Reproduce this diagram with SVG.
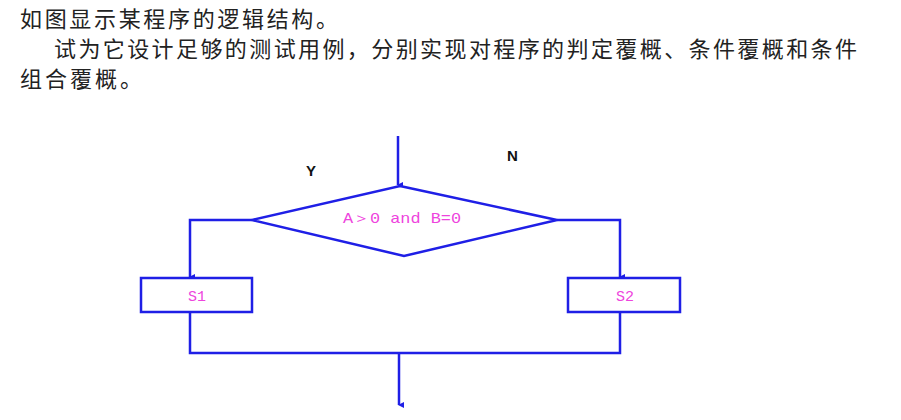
<svg xmlns="http://www.w3.org/2000/svg" width="901" height="420" viewBox="0 0 901 420">
<style>
.hdr{font-family:"Noto Sans CJK SC","Noto Sans CJK JP",sans-serif;font-size:22px;fill:#222}
.ln{fill:none;stroke:#1f1fe6;stroke-width:2.5}
.box{fill:#fff;stroke:#1f1fe6;stroke-width:2.5}
.lbl{font-family:"Liberation Mono",monospace;font-size:15px;fill:#ee44dd;text-anchor:middle}
.yn{font-family:"Liberation Sans",Arial,sans-serif;font-size:15px;font-weight:bold;fill:#111}
</style>
<defs>
<marker id="arr" markerWidth="8" markerHeight="8" refX="4" refY="6" orient="auto-start-reverse" markerUnits="userSpaceOnUse" viewBox="0 0 8 8">
<path d="M1,1 L4,7 L7,1 Z" fill="#1f1fe6"/>
</marker>
</defs>
<rect width="901" height="420" fill="#fff"/>
<g id="header">
<text class="hdr" x="20" y="27" textLength="318" lengthAdjust="spacing">如图显示某程序的逻辑结构。</text>
<text class="hdr" x="54" y="57" textLength="803" lengthAdjust="spacing">试为它设计足够的测试用例，分别实现对程序的判定覆概、条件覆概和条件</text>
<text class="hdr" x="20" y="87" textLength="122" lengthAdjust="spacing">组合覆概。</text>
</g>
<g id="connectors">
<line class="ln" x1="398" y1="136" x2="398" y2="185" marker-end="url(#arr)"/>
<polyline class="ln" points="252,220 190,220 190,277" marker-end="url(#arr)"/>
<polyline class="ln" points="557,220 620,220 620,277" marker-end="url(#arr)"/>
<polyline class="ln" points="190,312 190,353 620,353 620,312"/>
<line class="ln" x1="399" y1="353" x2="399" y2="405" marker-end="url(#arr)"/>
</g>
<g id="decision">
<polygon class="box" points="400,186 557,220 404,256 252,220"/>
<text class="lbl" x="402" y="223" textLength="118" lengthAdjust="spacingAndGlyphs">A＞0 and B=0</text>
</g>
<g id="s1">
<rect class="box" x="141" y="278" width="111" height="34"/>
<text class="lbl" x="197" y="301">S1</text>
</g>
<g id="s2">
<rect class="box" x="568" y="278" width="112" height="34"/>
<text class="lbl" x="625" y="301">S2</text>
</g>
<text class="yn" x="306" y="176">Y</text>
<text class="yn" x="507" y="161">N</text>
</svg>
